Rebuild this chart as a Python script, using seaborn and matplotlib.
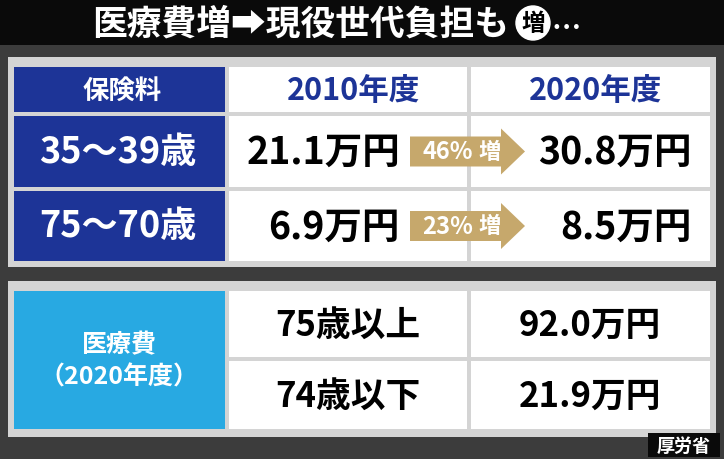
import matplotlib
matplotlib.use("Agg")
import matplotlib.pyplot as plt
import seaborn as sns
from matplotlib.patches import Rectangle, FancyArrow

sns.set_theme(style="white")
plt.rcParams['font.family'] = ['Noto Sans CJK JP', 'DejaVu Sans']

title = "医療費増➡現役世代負担も"
title_tail = "増"
years = ["2010年度", "2020年度"]
age_groups = ["35〜39歳", "75〜70歳"]
premium_2010 = ["21.1万円", "6.9万円"]
premium_2020 = ["30.8万円", "8.5万円"]
increase = ["46%", "23%"]
cost_label = "医療費\n（2020年度）"
cost_groups = ["75歳以上", "74歳以下"]
cost_values = ["92.0万円", "21.9万円"]
source = "厚労省"

BLUE = "#1d3497"
LBLUE = "#28a9e2"
GOLD = "#c6a86c"
BG = "#3c3c3c"

fig = plt.figure(figsize=(7.24, 4.6), dpi=100)
fig.patch.set_facecolor(BG)
ax = fig.add_axes([0, 0, 1, 1])
ax.set_xlim(0, 724); ax.set_ylim(460, 0); ax.axis("off")

def box(x, y, w, h, c, **kw):
    ax.add_patch(Rectangle((x, y), w, h, facecolor=c, edgecolor="none", **kw))

# title bar
box(0, 0, 724, 46, "#0a0a0a")
ax.text(92, 24, title, color="white", fontsize=25, fontweight="bold", va="center", ha="left")
ax.add_patch(plt.Circle((533, 24), 17, color="white"))
ax.text(533, 24, title_tail, color="black", fontsize=17, fontweight="bold", va="center", ha="center")
ax.text(552, 29, "…", color="white", fontsize=21, fontweight="bold", va="center", ha="left")

# panel 1
box(8, 58, 708, 210, "#d4d4d4")
cols = [(14, 211), (229, 238), (471, 239)]
rows = [(68, 45), (117, 71), (192, 70)]
for r, (ry, rh) in enumerate(rows):
    for c, (cx, cw) in enumerate(cols):
        box(cx, ry, cw, rh, BLUE if c == 0 else "white")
ax.text(122, 91, "保険料", color="white", fontsize=19, fontweight="bold", ha="center", va="center")
for i, yr in enumerate(years):
    cx, cw = cols[i + 1]
    ax.text(cx + cw / 2 + 5, 91, yr, color=BLUE, fontsize=22, fontweight="bold", ha="center", va="center")
for i in range(2):
    ry, rh = rows[i + 1]
    cy = ry + rh / 2
    ax.text(118, cy, age_groups[i], color="white", fontsize=26, fontweight="bold", ha="center", va="center")
    ax.text(400, cy, premium_2010[i], color="black", fontsize=27, fontweight="bold", ha="right", va="center")
    ax.text(692, cy, premium_2020[i], color="black", fontsize=27, fontweight="bold", ha="right", va="center")
    ax.add_patch(FancyArrow(410, cy, 115, 0, width=30, head_width=46, head_length=24,
                            length_includes_head=True, color=GOLD, ec="none"))
    ax.text(448, cy, increase[i], color="white", fontsize=17, fontweight="bold", ha="center", va="center")
    ax.text(490, cy, "増", color="white", fontsize=16, fontweight="bold", ha="center", va="center")

# panel 2
box(8, 282, 708, 156, "#d4d4d4")
box(14, 292, 211, 138, LBLUE)
ax.text(119, 361, cost_label, color="white", fontsize=18, fontweight="bold", ha="center", va="center",
        linespacing=1.4)
crow = [(292, 66), (362, 68)]
for i, (ry, rh) in enumerate(crow):
    box(229, ry, 238, rh, "white")
    box(471, ry, 239, rh, "white")
    ax.text(348, ry + rh / 2, cost_groups[i], color="black", fontsize=25, fontweight="bold", ha="center", va="center")
    ax.text(590, ry + rh / 2, cost_values[i], color="black", fontsize=25, fontweight="bold", ha="center", va="center")

box(648, 434, 72, 24, "#0a0a0a")
ax.text(684, 446, source, color="white", fontsize=13, fontweight="bold", ha="center", va="center")

fig.savefig("out.png", dpi=100, facecolor=fig.get_facecolor())
